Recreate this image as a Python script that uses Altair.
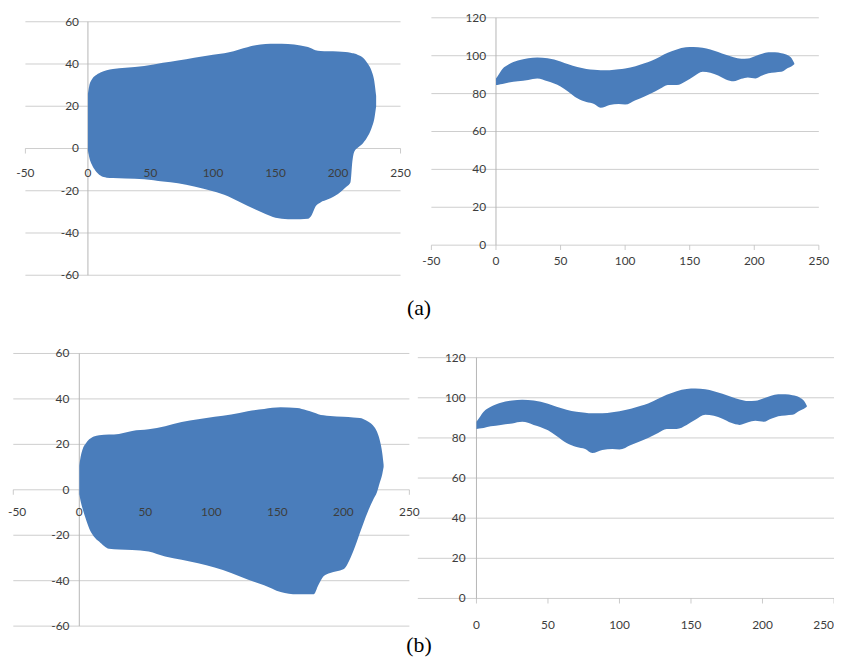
import altair as alt
import pandas as pd

# ---------------- data ----------------
# (a) left panel: x, upper edge, lower edge
tl_x = [0, 1, 3, 6, 10, 15, 20, 30, 45, 60, 72, 85, 100, 112, 121, 134, 142, 150,
        160, 170, 176, 179, 182, 186, 192, 200, 206, 210, 211.5, 213, 216, 220, 224,
        227, 229, 230.5]
tl_upper = [26, 29.5, 32.5, 34.5, 36, 37, 37.6, 38.2, 39, 40.6, 41.7, 43, 44.4, 45.4,
            46.9, 48.9, 49.5, 49.6, 49.5, 48.8, 48, 47.3, 46.5, 46.2, 46, 45.9, 45.7,
            45.3, 45.1, 45, 44.3, 43, 40, 36.5, 32, 25]
tl_lower = [-1, -4, -7.5, -10.5, -12.8, -13.8, -14, -14.2, -14.5, -15.6, -16.4, -18,
            -20.2, -22.6, -25.2, -28.9, -31, -32.8, -33.5, -33.5, -33.3, -31.5, -27.5,
            -25.5, -24, -21.5, -18.5, -16, -6, -1.5, 0.5, 2.5, 6, 10, 14, 20]

# (b) left panel
bl_x = [0, 1, 2.5, 5, 7.5, 11, 15, 22.5, 30, 40, 52.5, 65, 77.5, 90, 102.5, 115, 127.5,
        140, 152.5, 165, 172, 177.5, 181, 185, 190, 200, 207.5, 212.5, 215, 219, 222.5,
        225.5, 227.5, 229.5, 230.5]
bl_upper = [10.6, 14.5, 17.9, 20.5, 22.2, 23.5, 24, 24.3, 24.6, 25.9, 26.6, 28, 29.8, 31,
            32.1, 33.1, 34.6, 35.6, 36.3, 36, 35, 34, 33.3, 32.8, 32.5, 32.1, 31.8, 31.6,
            31.2, 30, 28.3, 25.5, 22, 16, 11]
bl_lower = [-2, -5, -8.3, -13, -17, -20.5, -22.8, -26, -26.3, -26.5, -27.2, -29.4, -30.8,
            -32.3, -34.2, -36.6, -39.5, -42, -45, -46, -46, -46, -42, -38, -36.6, -35, -27,
            -19, -15, -9, -4.5, -1, 3, 7, 10]

# right panels (same band in (a) and (b))
r_x = [0, 2, 5, 10, 17, 25, 32, 40, 50, 56, 63, 70, 76, 81, 88, 95, 100, 108, 115, 120,
       127, 133, 140, 147, 153, 160, 166, 172, 178, 184, 190, 195, 201, 206, 211, 216,
       221, 226, 229, 231]
r_upper = [88, 90, 93, 95.5, 97.5, 98.7, 99, 98.6, 97, 95.5, 94, 93, 92.6, 92.3, 92.3,
           92.8, 93.3, 94.5, 96, 97.2, 99.5, 101.5, 103.3, 104.4, 104.6, 104.2, 103.3,
           102, 100.5, 99.2, 98.4, 98.5, 99.8, 101, 101.8, 101.8, 101.3, 100.2, 98.5, 96]
r_lower = [84.5, 84.7, 85, 85.8, 86.5, 87.2, 88, 86.5, 83.8, 81, 77.5, 75.5, 74.5, 72.5,
           74, 74.5, 74.2, 76.5, 78.5, 80, 82.5, 84.5, 84.5, 86.5, 89, 91.5, 91, 89.5,
           87.5, 86.5, 87.8, 88.5, 88, 89.5, 90.8, 91.2, 91.5, 93.5, 94.5, 95.5]

left_yticks = [-60, -40, -20, 0, 20, 40, 60]
right_yticks = [0, 20, 40, 60, 80, 100, 120]
xticks = [-50, 0, 50, 100, 150, 200, 250]
xticks_br = [0, 50, 100, 150, 200, 250]
captions = ["(a)", "(b)"]

# ---------------- styling / layout ----------------
W, H = 834, 654
BLUE = "#4a7dbb"
GRID = "#cdcdcd"
AXIS = "#b5b5b5"
TXT = "#3d3d3d"
FONT = "Lato"


def panel(xs_, up, lo, x0, kx, y0, ky, xt, yt, gx0, gx1, xdy, ydx,
          first_left=False, last_right=False):
    xsc = alt.Scale(domain=[-x0 / kx, (W - x0) / kx], nice=False, zero=False)
    ysc = alt.Scale(domain=[-(H - y0) / ky, y0 / ky], nice=False, zero=False)

    def X(f):
        return alt.X(f, type="quantitative", scale=xsc, axis=None)

    def Y(f):
        return alt.Y(f, type="quantitative", scale=ysc, axis=None)

    grid_df = pd.DataFrame({"y": yt, "x0": [gx0] * len(yt), "x1": [gx1] * len(yt)})
    grid = alt.Chart(grid_df).mark_rule(color=GRID, strokeWidth=1).encode(
        x=X("x0"), x2="x1", y=Y("y"))

    ax_df = pd.DataFrame({"x": [0], "y0": [min(yt)], "y1": [max(yt)]})
    vaxis = alt.Chart(ax_df).mark_rule(color=AXIS, strokeWidth=1).encode(
        x=X("x"), y=Y("y0"), y2="y1")

    tk_df = pd.DataFrame({"x": xt, "y": [0] * len(xt)})
    ticks = alt.Chart(tk_df).mark_tick(color=AXIS, thickness=1, size=5,
                                       orient="vertical", yOffset=2.5).encode(
        x=X("x"), y=Y("y"))

    area_df = pd.DataFrame({"x": xs_, "upper": up, "lower": lo})
    area = alt.Chart(area_df).mark_area(color=BLUE, interpolate="monotone").encode(
        x=X("x"), y=Y("upper"), y2="lower")

    yl_df = pd.DataFrame({"v": yt, "z": [0] * len(yt), "lab": [str(v) for v in yt]})
    ylab = alt.Chart(yl_df).mark_text(align="right", baseline="middle", dx=ydx,
                                      font=FONT, fontSize=12, color=TXT).encode(
        x=X("z"), y=Y("v"), text="lab:N")

    mid = list(xt)
    layers = [grid, vaxis, ticks, area, ylab]
    text_style = dict(baseline="middle", dy=xdy, font=FONT, fontSize=12, color=TXT)
    if first_left:
        v = mid.pop(0)
        d = pd.DataFrame({"z": [0], "lab": [str(v)]})
        layers.append(alt.Chart(d).mark_text(align="left", **text_style).encode(
            x=alt.value(0), y=Y("z"), text="lab:N"))
    if last_right:
        v = mid.pop(-1)
        d = pd.DataFrame({"z": [0], "lab": [str(v)]})
        layers.append(alt.Chart(d).mark_text(align="right", **text_style).encode(
            x=alt.value(W), y=Y("z"), text="lab:N"))

    xl_df = pd.DataFrame({"v": mid, "z": [0] * len(mid), "lab": [str(v) for v in mid]})
    xlab = alt.Chart(xl_df).mark_text(align="center", **text_style).encode(
        x=X("v"), y=Y("z"), text="lab:N")
    layers.append(xlab)

    return alt.layer(*layers)


tl = panel(tl_x, tl_upper, tl_lower, 80.7, 1.2625, 138.7, 2.133,
           xticks, left_yticks, -50, 250, 25, -9)
tr = panel(r_x, r_upper, r_lower, 492.7, 1.304, 236.3, 1.913,
           xticks, right_yticks, -50, 250, 16, -10)
bl = panel(bl_x, bl_upper, bl_lower, 72, 1.333, 483.3, 2.294,
           xticks, left_yticks, -50, 250, 22, -10, first_left=True)
br = panel(r_x, r_upper, r_lower, 473, 1.444, 593, 2.026,
           xticks_br, right_yticks, -41, 250, 27, -11, last_right=True)

cap_a = alt.Chart(pd.DataFrame({"t": [captions[0]]})).mark_text(
    font="Liberation Serif", fontSize=22, baseline="alphabetic", align="center",
    color="black").encode(x=alt.value(415), y=alt.value(307), text="t:N")
cap_b = alt.Chart(pd.DataFrame({"t": [captions[1]]})).mark_text(
    font="Liberation Serif", fontSize=22, baseline="alphabetic", align="center",
    color="black").encode(x=alt.value(415), y=alt.value(647), text="t:N")

chart = alt.layer(tl, tr, bl, br, cap_a, cap_b).resolve_scale(
    x="independent", y="independent"
).properties(
    width=W, height=H, padding=0,
    autosize=alt.AutoSizeParams(type="none"),
).configure_view(stroke=None)

chart.save("out.html", embed_options={"renderer": "svg", "actions": False})
